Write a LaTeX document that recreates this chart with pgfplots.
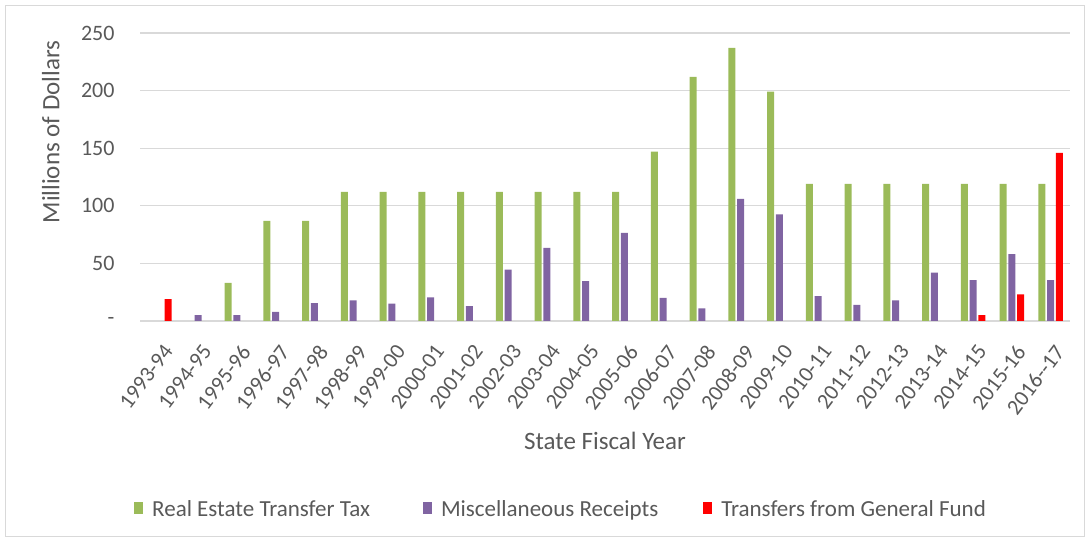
\documentclass[border=0pt]{standalone}
\usepackage{pgfplots}
\pgfplotsset{compat=1.18}
\usepackage{fontspec}
\setmainfont{Carlito}
\definecolor{rett}{HTML}{9BBB59}
\definecolor{misc}{HTML}{8064A2}
\definecolor{gf}{HTML}{FF0000}
\definecolor{txt}{HTML}{595959}
\definecolor{gridc}{HTML}{D9D9D9}
\begin{document}
\begin{tikzpicture}[x=1bp,y=1bp]
\useasboundingbox (0,0) rectangle (1090,542);
\draw[gridc, line width=1bp] (5.5,5.5) rectangle (1084.5,536.5);
\begin{axis}[
  at={(140bp,221bp)}, anchor=south west,
  scale only axis, width=930bp, height=288bp,
  xmin=-0.5, xmax=23.5, ymin=0, ymax=250,
  ybar=1.7bp, bar width=7bp,
  axis line style={draw=none},
  major tick length=0pt,
  ymajorgrids, major grid style={gridc, line width=1.2bp},
  ytick={0,50,100,150,200,250},
  yticklabels={-,50,100,150,200,250},
  xtick={0,...,23},
  xticklabels={1993-94,1994-95,1995-96,1996-97,1997-98,1998-99,1999-00,2000-01,2001-02,2002-03,2003-04,2004-05,2005-06,2006-07,2007-08,2008-09,2009-10,2010-11,2011-12,2012-13,2013-14,2014-15,2015-16,2016-{}-17},
  /pgf/number format/assume math mode=true,
  y tick label style={font=\fontsize{22bp}{26bp}\selectfont, text=txt, anchor=east, xshift=-22bp},
  x tick label style={font=\fontsize{22bp}{26bp}\selectfont, text=txt, xshift=3bp, yshift=-22bp, rotate=53, anchor=north east, inner sep=0pt},
  xlabel={State Fiscal Year},
  ylabel={Millions of Dollars},
  label style={font=\fontsize{25bp}{29bp}\selectfont, text=txt},
  xlabel style={at={(axis description cs:0.5,-0.417)}, anchor=center},
  ylabel style={at={(axis description cs:-0.096,0.656)}, anchor=center},
  legend style={at={(axis description cs:-0.00645,-0.6576)}, anchor=west, draw=none, fill=none,
    inner sep=0pt, legend columns=3, font=\fontsize{23bp}{27bp}\selectfont, text=txt,
    nodes={inner sep=0pt, text height=0.66em, text depth=0.2em},
    /tikz/every odd column/.append style={column sep=9bp}},
  legend cell align=left,
  legend image code/.code={\fill[#1] (0bp,0.5bp) rectangle (9bp,12.5bp);},
  every axis plot/.append style={draw=none},
]
\addplot[fill=rett] coordinates {(2,33) (3,87) (4,87) (5,112) (6,112) (7,112) (8,112) (9,112) (10,112) (11,112) (12,112) (13,147) (14,212) (15,237) (16,199) (17,119) (18,119) (19,119) (20,119) (21,119) (22,119) (23,119)};
\addlegendentry{Real Estate Transfer Tax\rule{53bp}{0pt}}
\addplot[fill=misc] coordinates {(1,5) (2,5) (3,8) (4,15.5) (5,18) (6,15) (7,20.5) (8,13) (9,44.5) (10,63.5) (11,34.5) (12,76.5) (13,20) (14,11) (15,106) (16,92.5) (17,21.5) (18,14) (19,18) (20,42) (21,35.5) (22,58) (23,35.5)};
\addlegendentry{Miscellaneous Receipts\rule{45bp}{0pt}}
\addplot[fill=gf] coordinates {(0,19) (21,5) (22,23) (23,146)};
\addlegendentry{Transfers from General Fund}
\end{axis}
\end{tikzpicture}
\end{document}
